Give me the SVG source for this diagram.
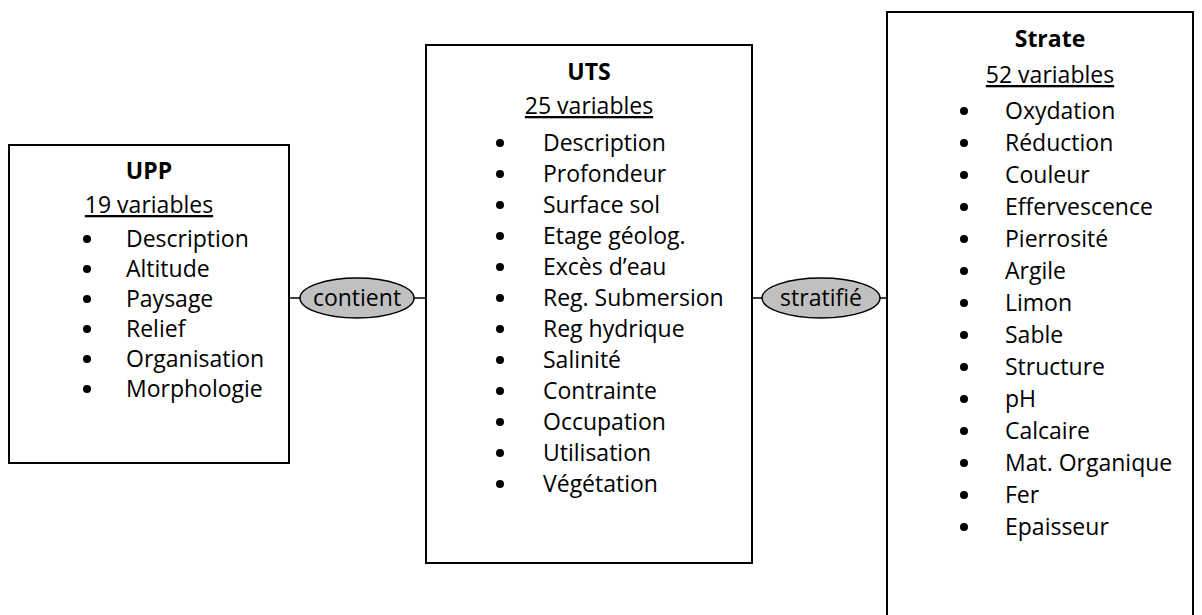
<svg xmlns="http://www.w3.org/2000/svg" width="1202" height="615" viewBox="0 0 1202 615">
<style>
  .box { fill: #ffffff; stroke: #000000; stroke-width: 2; }
  .rel { fill: #c0c0c0; stroke: #000000; stroke-width: 1.5; }
  .ln { stroke: #000000; stroke-width: 1.5; fill: none; }
  text { font-family: "Open Sans", "Liberation Sans", sans-serif; font-size: 23px; fill: #000000; }
  .title { font-weight: bold; text-anchor: middle; }
  .sub { text-anchor: middle; text-decoration: underline; }
  .mid { text-anchor: middle; }
</style>
<rect width="1202" height="615" fill="#ffffff"/>
<g id="connectors">
  <line class="ln" x1="289" y1="298" x2="300" y2="298"/>
  <line class="ln" x1="414" y1="298" x2="426" y2="298"/>
  <line class="ln" x1="752" y1="298" x2="762" y2="298"/>
  <line class="ln" x1="880" y1="298" x2="887" y2="298"/>
</g>
<g id="upp">
  <rect class="box" x="9" y="145" width="280" height="318"/>
  <text class="title" x="149" y="179">UPP</text>
  <text class="sub" x="149" y="213">19 variables</text>
  <g>
    <circle cx="87" cy="239" r="4"/><text x="126" y="247">Description</text>
    <circle cx="87" cy="269" r="4"/><text x="126" y="277">Altitude</text>
    <circle cx="87" cy="299" r="4"/><text x="126" y="307">Paysage</text>
    <circle cx="87" cy="329" r="4"/><text x="126" y="337">Relief</text>
    <circle cx="87" cy="359" r="4"/><text x="126" y="367">Organisation</text>
    <circle cx="87" cy="389" r="4"/><text x="126" y="397">Morphologie</text>
  </g>
</g>
<g id="contient">
  <ellipse class="rel" cx="357" cy="298" rx="57" ry="20"/>
  <text class="mid" x="357" y="306">contient</text>
</g>
<g id="uts">
  <rect class="box" x="426" y="45" width="326" height="518"/>
  <text class="title" x="589" y="80">UTS</text>
  <text class="sub" x="589" y="114">25 variables</text>
  <g>
    <circle cx="500" cy="143" r="4"/><text x="543" y="151">Description</text>
    <circle cx="500" cy="174" r="4"/><text x="543" y="182">Profondeur</text>
    <circle cx="500" cy="205" r="4"/><text x="543" y="213">Surface sol</text>
    <circle cx="500" cy="236" r="4"/><text x="543" y="244">Etage géolog.</text>
    <circle cx="500" cy="267" r="4"/><text x="543" y="275">Excès d’eau</text>
    <circle cx="500" cy="298" r="4"/><text x="543" y="306">Reg. Submersion</text>
    <circle cx="500" cy="329" r="4"/><text x="543" y="337">Reg hydrique</text>
    <circle cx="500" cy="360" r="4"/><text x="543" y="368">Salinité</text>
    <circle cx="500" cy="391" r="4"/><text x="543" y="399">Contrainte</text>
    <circle cx="500" cy="422" r="4"/><text x="543" y="430">Occupation</text>
    <circle cx="500" cy="453" r="4"/><text x="543" y="461">Utilisation</text>
    <circle cx="500" cy="484" r="4"/><text x="543" y="492">Végétation</text>
  </g>
</g>
<g id="stratifie">
  <ellipse class="rel" cx="821" cy="298" rx="59" ry="20"/>
  <text class="mid" x="821" y="306">stratifié</text>
</g>
<g id="strate">
  <rect class="box" x="887" y="12" width="306" height="640"/>
  <text class="title" x="1050" y="47">Strate</text>
  <text class="sub" x="1050" y="83">52 variables</text>
  <g>
    <circle cx="964" cy="111" r="4"/><text x="1005" y="119">Oxydation</text>
    <circle cx="964" cy="143" r="4"/><text x="1005" y="151">Réduction</text>
    <circle cx="964" cy="175" r="4"/><text x="1005" y="183">Couleur</text>
    <circle cx="964" cy="207" r="4"/><text x="1005" y="215">Effervescence</text>
    <circle cx="964" cy="239" r="4"/><text x="1005" y="247">Pierrosité</text>
    <circle cx="964" cy="271" r="4"/><text x="1005" y="279">Argile</text>
    <circle cx="964" cy="303" r="4"/><text x="1005" y="311">Limon</text>
    <circle cx="964" cy="335" r="4"/><text x="1005" y="343">Sable</text>
    <circle cx="964" cy="367" r="4"/><text x="1005" y="375">Structure</text>
    <circle cx="964" cy="399" r="4"/><text x="1005" y="407">pH</text>
    <circle cx="964" cy="431" r="4"/><text x="1005" y="439">Calcaire</text>
    <circle cx="964" cy="463" r="4"/><text x="1005" y="471">Mat. Organique</text>
    <circle cx="964" cy="495" r="4"/><text x="1005" y="503">Fer</text>
    <circle cx="964" cy="527" r="4"/><text x="1005" y="535">Epaisseur</text>
  </g>
</g>
</svg>
